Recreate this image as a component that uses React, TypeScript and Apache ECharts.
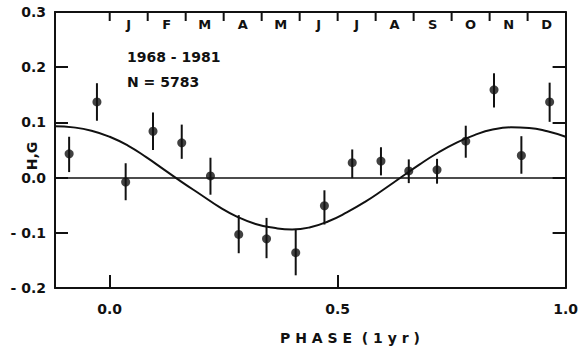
import React, { useEffect, useRef } from "react";
import * as echarts from "echarts";

const FONT = "DejaVu Sans";
const INK = "#111111";

// measured phase / H,G values of binned points
const pointPhase = [-0.089, -0.028, 0.035, 0.095, 0.158, 0.221, 0.283, 0.344, 0.408, 0.471, 0.532, 0.595, 0.656, 0.718, 0.781, 0.843, 0.903, 0.965];
const pointValue = [0.043, 0.137, -0.008, 0.084, 0.063, 0.003, -0.103, -0.111, -0.136, -0.051, 0.027, 0.030, 0.012, 0.014, 0.066, 0.159, 0.040, 0.137];
const errUp = [0.031, 0.034, 0.034, 0.034, 0.033, 0.033, 0.035, 0.038, 0.043, 0.028, 0.024, 0.025, 0.021, 0.020, 0.028, 0.030, 0.035, 0.035];
const errDown = [0.033, 0.034, 0.033, 0.034, 0.029, 0.034, 0.034, 0.035, 0.041, 0.034, 0.028, 0.026, 0.022, 0.025, 0.030, 0.032, 0.033, 0.036];

// fitted curve
const curvePhase = [-0.12, -0.08, -0.04, 0.0, 0.04, 0.08, 0.12, 0.16, 0.2, 0.24, 0.28, 0.32, 0.36, 0.4, 0.44, 0.48, 0.52, 0.56, 0.6, 0.64, 0.68, 0.72, 0.76, 0.8, 0.84, 0.88, 0.92, 0.96, 1.0];
const curveValue = [0.093, 0.091, 0.085, 0.074, 0.058, 0.037, 0.014, -0.009, -0.031, -0.053, -0.071, -0.084, -0.091, -0.094, -0.09, -0.079, -0.063, -0.044, -0.022, 0.001, 0.024, 0.045, 0.063, 0.077, 0.087, 0.091, 0.09, 0.084, 0.074];

const months = ["J", "F", "M", "A", "M", "J", "J", "A", "S", "O", "N", "D"];
const monthTicks = [0, 1 / 12, 2 / 12, 3 / 12, 4 / 12, 5 / 12, 6 / 12, 7 / 12, 8 / 12, 9 / 12, 10 / 12, 11 / 12];
const monthCenters = [1 / 24, 3 / 24, 5 / 24, 7 / 24, 9 / 24, 11 / 24, 13 / 24, 15 / 24, 17 / 24, 19 / 24, 21 / 24, 23 / 24];
const phaseTicks = [0, 0.5, 1.0];
const Y_TOP = 0.3;

export default function App() {
  const ref = useRef<HTMLDivElement>(null);
  useEffect(() => {
    if (!ref.current) return;
    const chart = echarts.init(ref.current, null, { renderer: "svg" });
    const lineStyle = { color: INK, width: 2 };
    const textBase = { fontSize: 14, fontFamily: FONT, fontWeight: "bold", fill: INK };
    chart.setOption({
      animation: false,
      backgroundColor: "#ffffff",
      grid: { left: 55, top: 12, right: 9, bottom: 61 },
      xAxis: [
        {
          type: "value",
          position: "bottom",
          min: -0.12,
          max: 1.0,
          axisLine: { show: true, onZero: false, lineStyle },
          axisTick: { show: true, inside: true, length: 13, customValues: phaseTicks, lineStyle },
          axisLabel: {
            customValues: phaseTicks,
            formatter: (v: number) => v.toFixed(1),
            margin: 14,
            fontSize: 14,
            fontWeight: "bold",
            fontFamily: FONT,
            color: INK,
          },
          splitLine: { show: false },
        },
        {
          type: "value",
          position: "top",
          min: -0.12,
          max: 1.0,
          axisLine: { show: true, onZero: false, lineStyle },
          axisTick: { show: false },
          axisLabel: {
            inside: true,
            customValues: monthCenters,
            formatter: (v: number) => months[Math.round((v - 1 / 24) * 12)] ?? "",
            margin: 6,
            fontSize: 13,
            fontWeight: "bold",
            fontFamily: FONT,
            color: INK,
          },
          splitLine: { show: false },
        },
      ],
      yAxis: [
        {
          type: "value",
          position: "left",
          min: -0.2,
          max: 0.3,
          interval: 0.1,
          axisLine: { show: true, onZero: false, lineStyle },
          axisTick: { show: true, inside: true, length: 13, lineStyle },
          axisLabel: {
            formatter: (v: number) => (v < -1e-9 ? "- " + Math.abs(v).toFixed(1) : v.toFixed(1)),
            margin: 9,
            fontSize: 14,
            fontWeight: "bold",
            fontFamily: FONT,
            color: INK,
          },
          splitLine: { show: false },
        },
        {
          type: "value",
          position: "right",
          min: -0.2,
          max: 0.3,
          interval: 0.1,
          axisLine: { show: true, onZero: false, lineStyle },
          axisTick: { show: true, inside: true, length: 13, lineStyle },
          axisLabel: { show: false },
          splitLine: { show: false },
        },
      ],
      graphic: [
        {
          type: "text",
          x: 32,
          y: 156,
          rotation: Math.PI / 2,
          style: { ...textBase, text: "H,G", align: "center", verticalAlign: "middle" },
        },
        {
          type: "text",
          x: 127,
          y: 57,
          style: { ...textBase, text: "1968 - 1981", align: "left", verticalAlign: "middle" },
        },
        {
          type: "text",
          x: 127,
          y: 82,
          style: { ...textBase, text: "N = 5783", align: "left", verticalAlign: "middle" },
        },
        {
          type: "text",
          x: 350,
          y: 338,
          style: { ...textBase, text: "P H A S E  ( 1 y r )", align: "center", verticalAlign: "middle" },
        },
      ],
      series: [
        {
          type: "line",
          xAxisIndex: 0,
          yAxisIndex: 0,
          data: curvePhase.map((p, i) => [p, curveValue[i]]),
          smooth: true,
          showSymbol: false,
          lineStyle: { color: INK, width: 2 },
          markLine: {
            silent: true,
            symbol: ["none", "none"],
            label: { show: false },
            lineStyle: { type: "solid", color: INK, width: 1.5 },
            data: [{ yAxis: 0 }],
          },
        },
        {
          type: "custom",
          xAxisIndex: 0,
          yAxisIndex: 0,
          data: pointPhase.map((p, i) => [p, pointValue[i], errUp[i], errDown[i]]),
          renderItem: (params: any, api: any) => {
            const x = api.value(0);
            const y = api.value(1);
            const top = api.coord([x, y + api.value(2)]);
            const bot = api.coord([x, y - api.value(3)]);
            return {
              type: "line",
              shape: { x1: top[0], y1: top[1], x2: bot[0], y2: bot[1] },
              style: { stroke: INK, lineWidth: 2 },
            };
          },
        },
        {
          type: "scatter",
          xAxisIndex: 0,
          yAxisIndex: 0,
          data: pointPhase.map((p, i) => [p, pointValue[i]]),
          symbol: "circle",
          symbolSize: 9,
          itemStyle: { color: INK },
        },
        {
          type: "custom",
          xAxisIndex: 0,
          yAxisIndex: 0,
          clip: false,
          z: 50,
          data: monthTicks.map((m) => [m, Y_TOP]),
          renderItem: (params: any, api: any) => {
            const p = api.coord([api.value(0), api.value(1)]);
            return {
              type: "line",
              shape: { x1: p[0], y1: p[1], x2: p[0], y2: p[1] + 9 },
              style: { stroke: INK, lineWidth: 2 },
            };
          },
        },
      ],
    });
    return () => chart.dispose();
  }, []);
  return <div ref={ref} style={{ position: "fixed", left: 0, top: 0, width: 581, height: 349 }} />;
}
